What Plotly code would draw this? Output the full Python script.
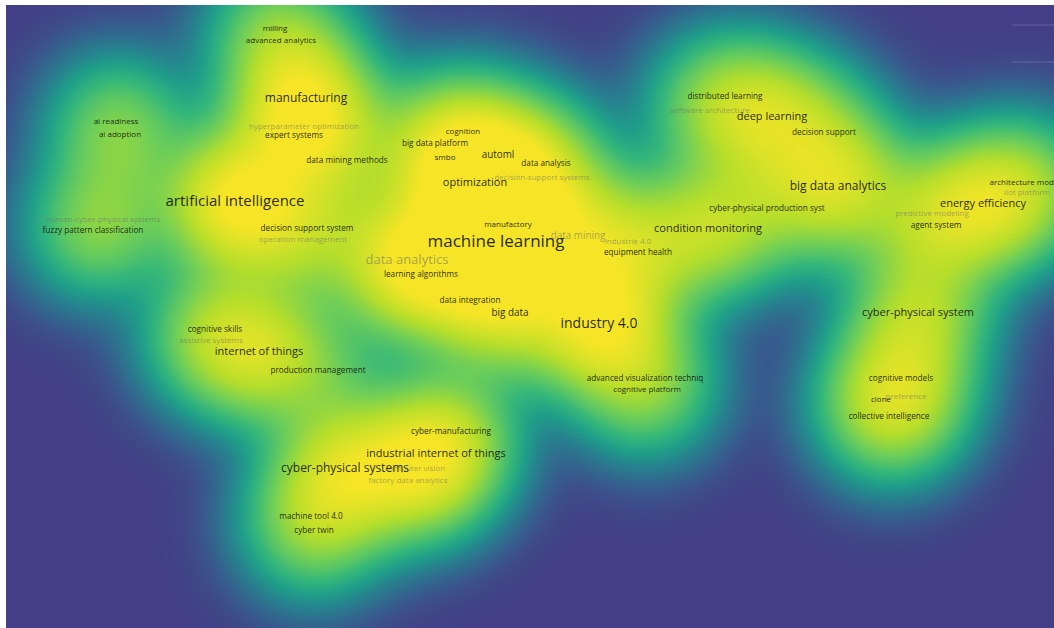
import numpy as np
import plotly.graph_objects as go

# Keyword co-occurrence map: term, map coordinates (x right, y down) and occurrences
terms = [
    "milling", "advanced analytics", "manufacturing", "ai readiness", "ai adoption",
    "hyperparameter optimization", "expert systems", "cognition", "big data platform", "smbo",
    "automl", "data analysis", "data mining methods", "decision-support systems", "optimization",
    "artificial intelligence", "distributed learning", "software architecture", "deep learning",
    "decision support", "big data analytics", "architecture model", "iiot platform",
    "cyber-physical production syst", "energy efficiency", "predictive modeling", "agent system",
    "human-cyber-physical systems", "fuzzy pattern classification", "decision support system",
    "operation management", "manufactory", "machine learning", "data mining", "industrie 4.0",
    "condition monitoring", "equipment health", "data analytics", "learning algorithms",
    "data integration", "big data", "industry 4.0", "cyber-physical system", "cognitive skills",
    "assistive systems", "internet of things", "production management",
    "advanced visualization techniq", "cognitive platform", "cognitive models", "clone",
    "preference", "collective intelligence", "cyber-manufacturing", "industrial internet of things",
    "cyber-physical systems", "computer vision", "factory data analytics", "machine tool 4.0",
    "cyber twin",
]
map_x = [
    269, 275, 300, 110, 114,
    298, 288, 457, 429, 439,
    492, 540, 341, 536, 469,
    229, 719, 704, 766,
    818, 832, 1019, 1021,
    761, 977, 926, 930,
    97, 87, 301,
    297, 502, 490, 572, 622,
    702, 632, 401, 415,
    464, 504, 593, 912, 209,
    205, 253, 312,
    639, 641, 895, 875,
    900, 883, 445, 430,
    339, 409, 402, 305,
    308,
]
map_y = [
    24, 36, 94, 117, 130,
    122, 131, 127, 139, 153,
    151, 159, 156, 173, 178,
    197, 92, 106, 112,
    128, 182, 178, 188,
    204, 199, 209, 221,
    215, 226, 224,
    235, 220, 238, 232, 237,
    224, 248, 256, 270,
    296, 309, 319, 308, 325,
    336, 347, 366,
    374, 385, 374, 395,
    392, 412, 427, 449,
    464, 464, 476, 512,
    526,
]
occurrences = [
    5, 5, 37, 5, 5,
    5, 6, 5, 6, 5,
    17, 6, 6, 5, 26,
    81, 6, 5, 26,
    6, 37, 5, 5,
    6, 26, 5, 6,
    5, 6, 6,
    5, 5, 120, 17, 5,
    26, 6, 50, 6,
    6, 17, 65, 26, 6,
    5, 26, 6,
    6, 5, 6, 5,
    5, 6, 6, 26,
    37, 5, 5, 6,
    6,
]

# Labels drawn faded because neighbouring labels overlap them
faded = {
    "hyperparameter optimization", "decision-support systems", "software architecture",
    "iiot platform", "predictive modeling", "human-cyber-physical systems",
    "operation management", "data mining", "industrie 4.0", "data analytics",
    "assistive systems", "preference", "computer vision", "factory data analytics",
}

X_MAX, Y_MAX = 1048, 623

mx = np.array(map_x, dtype=float)
my = np.array(map_y, dtype=float)
occ = np.array(occurrences, dtype=float)
weights = occ ** 0.55

# Gaussian kernel density over the map, shown on a logarithmic colour ramp
gx = np.arange(0, X_MAX + 4, 4, dtype=float)
gy = np.arange(0, Y_MAX + 4, 4, dtype=float)
GX, GY = np.meshgrid(gx, gy)
sigma = 44.0
dens = np.zeros_like(GX)
for x0, y0, w in zip(mx, my, weights):
    dens += w * np.exp(-((GX - x0) ** 2 + (GY - y0) ** 2) / (2 * sigma ** 2))
soft, full = 0.3, 12.0
level = np.clip(np.log1p(dens / soft) / np.log1p(full / soft), 0, 1)
level = np.round(level, 3)

colorscale = [
    [0.00, "#433e86"],
    [0.12, "#3c508b"],
    [0.25, "#31688e"],
    [0.38, "#26828e"],
    [0.50, "#1f9e89"],
    [0.62, "#35b779"],
    [0.75, "#6ece58"],
    [0.87, "#b5de2b"],
    [1.00, "#f5e526"],
]

fig = go.Figure()
fig.add_trace(go.Heatmap(
    x=gx, y=gy, z=level, zmin=0, zmax=1, zsmooth="best",
    colorscale=colorscale, showscale=False, hoverinfo="skip",
))

sq = np.sqrt(occ)
font_sizes = 8 + 9 * (sq - np.sqrt(5)) / (np.sqrt(120) - np.sqrt(5))
text_colors = ["rgba(105,105,105,0.55)" if t in faded else "rgba(15,15,15,0.9)" for t in terms]

fig.add_trace(go.Scatter(
    x=mx, y=my, mode="text", text=terms,
    textposition="middle center",
    textfont=dict(family="Open Sans", size=font_sizes.round(1).tolist(), color=text_colors),
    hoverinfo="text", showlegend=False,
))

fig.update_layout(
    width=1054, height=628,
    margin=dict(l=6, r=0, t=5, b=0),
    paper_bgcolor="white", plot_bgcolor="#433e86",
    xaxis=dict(range=[0, X_MAX], visible=False, fixedrange=True),
    yaxis=dict(range=[Y_MAX, 0], visible=False, fixedrange=True),
    showlegend=False,
)

# Thin panel outlines at the upper right corner
for yv in (20, 57):
    fig.add_shape(type="line", xref="x", yref="y", x0=1006, x1=X_MAX, y0=yv, y1=yv,
                  line=dict(color="rgba(200,200,230,0.25)", width=1))

fig.write_html("out.html")
